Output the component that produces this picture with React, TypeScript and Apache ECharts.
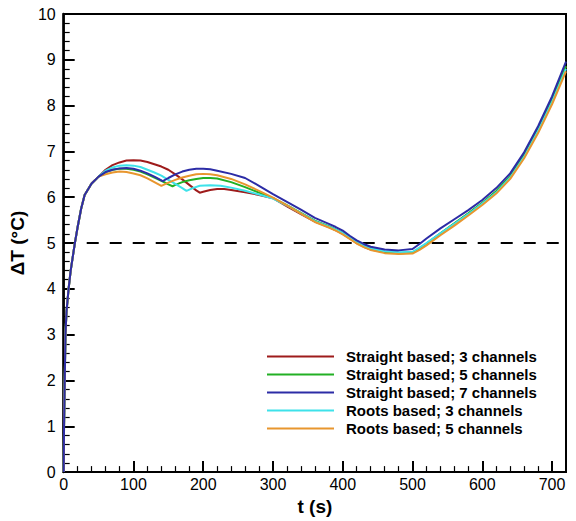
import React, { useEffect, useRef } from "react";
import * as echarts from "echarts";

// Shared initial rise (all five curves coincide)
const RISE_T = [0, 0.5, 1.5, 2.5, 4, 7, 10, 16, 20, 25, 30, 40, 50];
const RISE_V = [0, 1, 2, 3, 3.5, 4, 4.4, 5, 5.35, 5.75, 6.05, 6.3, 6.45];

// Middle section per design
const S3_T = [60, 70, 80, 90, 100, 110, 120, 130, 140, 150, 160, 170, 180, 190, 195, 200, 210, 220, 230, 240, 260, 280, 300];
const S3_V = [6.6, 6.7, 6.76, 6.8, 6.81, 6.8, 6.77, 6.72, 6.67, 6.6, 6.5, 6.39, 6.27, 6.15, 6.1, 6.12, 6.16, 6.18, 6.18, 6.16, 6.11, 6.05, 5.98];

const S5_T = [60, 70, 80, 90, 100, 110, 120, 130, 140, 150, 156, 160, 170, 180, 190, 200, 210, 220, 240, 260, 280, 300];
const S5_V = [6.55, 6.6, 6.62, 6.62, 6.6, 6.56, 6.5, 6.43, 6.36, 6.28, 6.24, 6.27, 6.33, 6.37, 6.4, 6.42, 6.42, 6.41, 6.33, 6.22, 6.1, 5.98];

const S7_T = [60, 70, 80, 90, 100, 110, 120, 130, 142, 150, 160, 170, 180, 190, 200, 210, 220, 240, 260, 280, 300];
const S7_V = [6.55, 6.6, 6.63, 6.64, 6.62, 6.58, 6.52, 6.45, 6.35, 6.42, 6.5, 6.56, 6.6, 6.62, 6.62, 6.61, 6.58, 6.51, 6.42, 6.25, 6.07];

const R3_T = [60, 70, 80, 90, 100, 110, 120, 130, 140, 150, 160, 170, 176, 185, 195, 210, 225, 240, 260, 280, 300];
const R3_V = [6.58, 6.65, 6.69, 6.7, 6.69, 6.66, 6.6, 6.54, 6.47, 6.38, 6.29, 6.2, 6.14, 6.2, 6.25, 6.26, 6.25, 6.21, 6.14, 6.06, 5.97];

const R5_T = [60, 70, 80, 90, 100, 110, 120, 130, 140, 150, 160, 170, 180, 190, 200, 210, 220, 240, 260, 280, 300];
const R5_V = [6.5, 6.54, 6.56, 6.55, 6.52, 6.48, 6.41, 6.33, 6.25, 6.32, 6.38, 6.43, 6.47, 6.5, 6.51, 6.5, 6.48, 6.4, 6.28, 6.14, 5.99];

// Tail section
const TAIL_T = [320, 340, 360, 380, 390, 400, 410, 420, 430, 440, 460, 480, 500, 510, 520, 540, 560, 580, 600, 620, 640, 660, 680, 700, 720];
const S3_TAIL = [5.8, 5.63, 5.47, 5.35, 5.28, 5.2, 5.1, 5.0, 4.92, 4.86, 4.8, 4.78, 4.79, 4.88, 4.98, 5.2, 5.42, 5.64, 5.87, 6.12, 6.45, 6.9, 7.47, 8.1, 8.85];
const S5_TAIL = [5.83, 5.66, 5.49, 5.37, 5.3, 5.22, 5.12, 5.02, 4.94, 4.88, 4.81, 4.78, 4.79, 4.88, 4.99, 5.21, 5.43, 5.65, 5.88, 6.13, 6.46, 6.92, 7.5, 8.14, 8.86];
const S7_TAIL = [5.9, 5.73, 5.55, 5.42, 5.35, 5.27, 5.16, 5.06, 4.98, 4.92, 4.86, 4.84, 4.87, 4.98, 5.1, 5.32, 5.52, 5.72, 5.94, 6.2, 6.52, 6.98, 7.55, 8.2, 8.96];
const R3_TAIL = [5.82, 5.65, 5.48, 5.36, 5.29, 5.22, 5.12, 5.02, 4.94, 4.88, 4.82, 4.8, 4.81, 4.9, 5.0, 5.21, 5.42, 5.63, 5.86, 6.1, 6.43, 6.88, 7.45, 8.08, 8.8];
const R5_TAIL = [5.82, 5.64, 5.46, 5.34, 5.27, 5.19, 5.09, 4.99, 4.91, 4.85, 4.78, 4.76, 4.77, 4.85, 4.95, 5.17, 5.38, 5.6, 5.83, 6.08, 6.4, 6.85, 7.4, 8.03, 8.75];

const NAMES = [
  "Straight based; 3 channels",
  "Straight based; 5 channels",
  "Straight based; 7 channels",
  "Roots based; 3 channels",
  "Roots based; 5 channels",
];
const COLORS = ["#9E1B1B", "#22B024", "#2C2CA6", "#3EE2EA", "#E8962E"];

const THRESHOLD_T = [33, 720];
const THRESHOLD_V = [5, 5];

function zip(t: number[], v: number[]) {
  return t.map((x, i) => [x, v[i]]);
}

function build(midT: number[], midV: number[], tail: number[]) {
  return [...zip(RISE_T, RISE_V), ...zip(midT, midV), ...zip(TAIL_T, tail)];
}

const SERIES_DATA = [
  build(S3_T, S3_V, S3_TAIL),
  build(S5_T, S5_V, S5_TAIL),
  build(S7_T, S7_V, S7_TAIL),
  build(R3_T, R3_V, R3_TAIL),
  build(R5_T, R5_V, R5_TAIL),
];

const FONT = "'Liberation Sans', Arial, sans-serif";

export default function App() {
  const ref = useRef<HTMLDivElement>(null);
  useEffect(() => {
    document.body.style.margin = "0";
    const chart = echarts.init(ref.current!, null, { renderer: "svg" });
    const order = [0, 1, 3, 4, 2];
    chart.setOption({
      animation: false,
      backgroundColor: "#ffffff",
      grid: {
        left: 60,
        right: 10,
        top: 14,
        bottom: 47,
        show: true,
        borderColor: "#000",
        borderWidth: 2,
        backgroundColor: "transparent",
      },
      legend: {
        orient: "vertical",
        left: 267,
        top: 349,
        padding: 0,
        icon: "rect",
        itemWidth: 67,
        itemHeight: 2,
        itemGap: 3,
        data: NAMES,
        textStyle: {
          fontFamily: FONT,
          fontWeight: "bold",
          fontSize: 15,
          color: "#000",
          padding: [0, 0, 0, 7],
        },
      },
      xAxis: {
        type: "value",
        min: 0,
        max: 720,
        interval: 100,
        name: "t (s)",
        nameLocation: "middle",
        nameGap: 14,
        nameTextStyle: { fontFamily: FONT, fontWeight: "bold", fontSize: 19, color: "#000" },
        axisLine: { show: true, onZero: false, lineStyle: { color: "#000", width: 2 } },
        axisTick: { show: true, inside: true, length: 11, lineStyle: { color: "#000", width: 2 } },
        minorTick: { show: true, splitNumber: 5, length: 6, lineStyle: { color: "#000", width: 1.2 } },
        splitLine: { show: false },
        axisLabel: {
          margin: 4,
          fontFamily: FONT,
          fontSize: 16,
          color: "#000",
        },
      },
      yAxis: {
        type: "value",
        min: 0,
        max: 10,
        interval: 1,
        name: "ΔT (°C)",
        nameLocation: "middle",
        nameGap: 28,
        nameTextStyle: { fontFamily: FONT, fontWeight: "bold", fontSize: 19, color: "#000" },
        axisLine: { show: true, onZero: false, lineStyle: { color: "#000", width: 2.5 } },
        axisTick: { show: true, inside: true, length: 11, lineStyle: { color: "#000", width: 2 } },
        minorTick: { show: true, splitNumber: 5, length: 6, lineStyle: { color: "#000", width: 1.2 } },
        splitLine: { show: false },
        axisLabel: { margin: 8, fontFamily: FONT, fontSize: 16, color: "#000" },
      },
      series: [
        {
          type: "line",
          name: "threshold",
          data: zip(THRESHOLD_T, THRESHOLD_V),
          symbol: "none",
          silent: true,
          lineStyle: { color: "#000", width: 2, type: [12, 11] },
          z: 1,
        },
        ...order.map((i) => ({
          type: "line",
          name: NAMES[i],
          data: SERIES_DATA[i],
          symbol: "none",
          smooth: false,
          color: COLORS[i],
          lineStyle: { color: COLORS[i], width: 2 },
          z: 2,
        })),
      ],
    });
    return () => chart.dispose();
  }, []);
  return (
    <div
      ref={ref}
      style={{ position: "absolute", left: 0, top: 0, width: 576, height: 521, background: "#fff" }}
    />
  );
}
